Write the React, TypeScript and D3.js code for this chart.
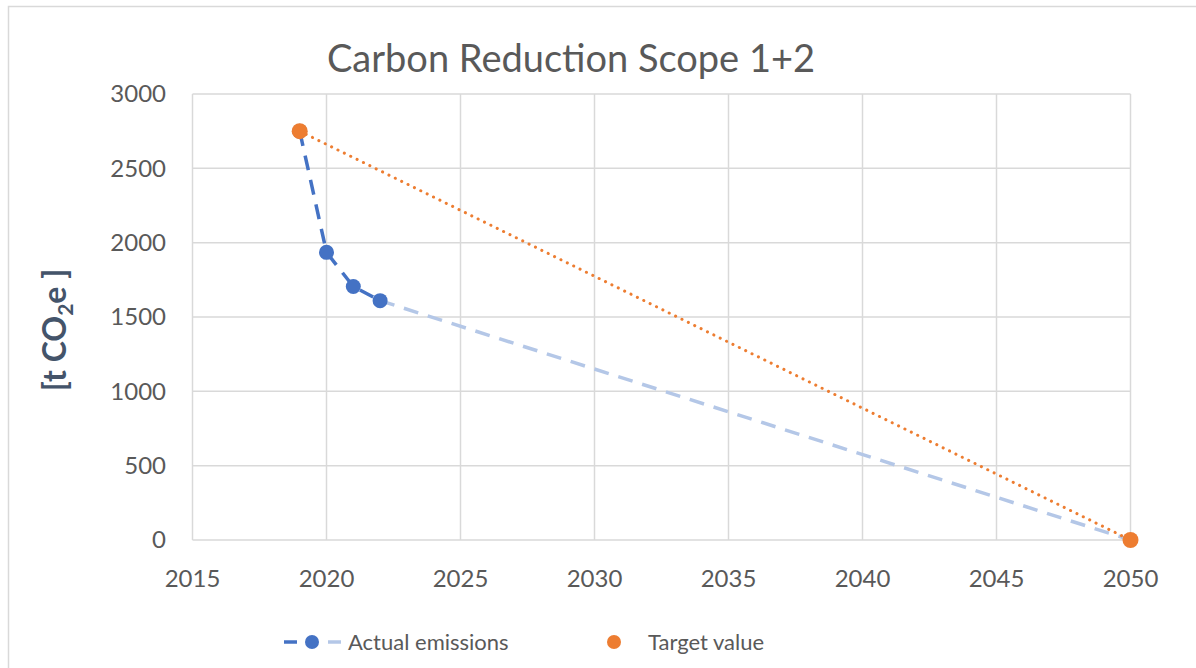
import React from "react";
import * as d3 from "d3";

const actualYears = [2019, 2020, 2021, 2022];
const actualValues = [2750, 1935, 1705, 1610];
const projectionYears = [2022, 2050];
const projectionValues = [1610, 0];
const targetYears = [2019, 2050];
const targetValues = [2750, 0];
const xTicks = [2015, 2020, 2025, 2030, 2035, 2040, 2045, 2050];
const yTicks = [0, 500, 1000, 1500, 2000, 2500, 3000];

const W = 1196;
const H = 668;
const FONT = "Lato, 'Open Sans', sans-serif";
const GRAY = "#595959";
const GRID = "#d9d9d9";
const BLUE = "#4472C4";
const LIGHT_BLUE = "#B4C7E7";
const ORANGE = "#ED7D31";

export default function App() {
  const x = d3.scaleLinear().domain([2015, 2050]).range([192.5, 1130.5]);
  const y = d3.scaleLinear().domain([0, 3000]).range([540, 94]);
  const line = d3
    .line<[number, number]>()
    .x((d) => x(d[0]))
    .y((d) => y(d[1]));

  const actual = actualYears.map((yr, i) => [yr, actualValues[i]] as [number, number]);
  const proj = projectionYears.map((yr, i) => [yr, projectionValues[i]] as [number, number]);
  const target = targetYears.map((yr, i) => [yr, targetValues[i]] as [number, number]);

  return (
    <svg
      width={W}
      height={H}
      style={{ position: "absolute", left: 0, top: 0, background: "#fff" }}
      fontFamily={FONT}
    >
      <rect x={8.5} y={6.5} width={W + 10} height={H + 10} fill="#fff" stroke={GRID} strokeWidth={1.5} />
      <text x={571} y={72} textAnchor="middle" fontSize={38} fill={GRAY}>
        Carbon Reduction Scope 1+2
      </text>
      {yTicks.map((t) => (
        <g key={"y" + t}>
          <line x1={x(2015)} x2={x(2050)} y1={y(t)} y2={y(t)} stroke={GRID} strokeWidth={1.5} />
          <text x={166} y={y(t)} dy="0.35em" textAnchor="end" fontSize={24} fill={GRAY}>
            {t}
          </text>
        </g>
      ))}
      {xTicks.map((t) => (
        <g key={"x" + t}>
          <line x1={x(t)} x2={x(t)} y1={y(0)} y2={y(3000)} stroke={GRID} strokeWidth={1.5} />
          <text x={x(t)} y={587} textAnchor="middle" fontSize={24} fill={GRAY}>
            {t}
          </text>
        </g>
      ))}
      <text
        transform={`translate(66, 330) rotate(-90)`}
        textAnchor="middle"
        fontSize={32}
        fontWeight="bold"
        fill="#44546A"
      >
        [t CO
        <tspan fontSize={21} dy={7}>2</tspan>
        <tspan dy={-7}>e ]</tspan>
      </text>
      <path d={line(proj) || ""} fill="none" stroke={LIGHT_BLUE} strokeWidth={3.5} strokeDasharray="15 10" />
      <path d={line(actual) || ""} fill="none" stroke={BLUE} strokeWidth={3.5} strokeDasharray="15 10" />
      <path
        d={line(target) || ""}
        fill="none"
        stroke={ORANGE}
        strokeWidth={3}
        strokeDasharray="0.1 7"
        strokeLinecap="round"
      />
      {actual.map((d, i) => (
        <circle key={"a" + i} cx={x(d[0])} cy={y(d[1])} r={7.5} fill={BLUE} />
      ))}
      {target.map((d, i) => (
        <circle key={"t" + i} cx={x(d[0])} cy={y(d[1])} r={8} fill={ORANGE} />
      ))}
      {/* legend */}
      <g>
        <line x1={284} x2={297} y1={642} y2={642} stroke={BLUE} strokeWidth={3.5} />
        <circle cx={312} cy={642} r={7} fill={BLUE} />
        <line x1={328} x2={341} y1={642} y2={642} stroke={LIGHT_BLUE} strokeWidth={3.5} />
        <text x={348} y={642} dy="0.35em" fontSize={22} fill={GRAY}>
          Actual emissions
        </text>
        <circle cx={614} cy={642} r={7} fill={ORANGE} />
        <text x={648} y={642} dy="0.35em" fontSize={22} fill={GRAY}>
          Target value
        </text>
      </g>
    </svg>
  );
}
